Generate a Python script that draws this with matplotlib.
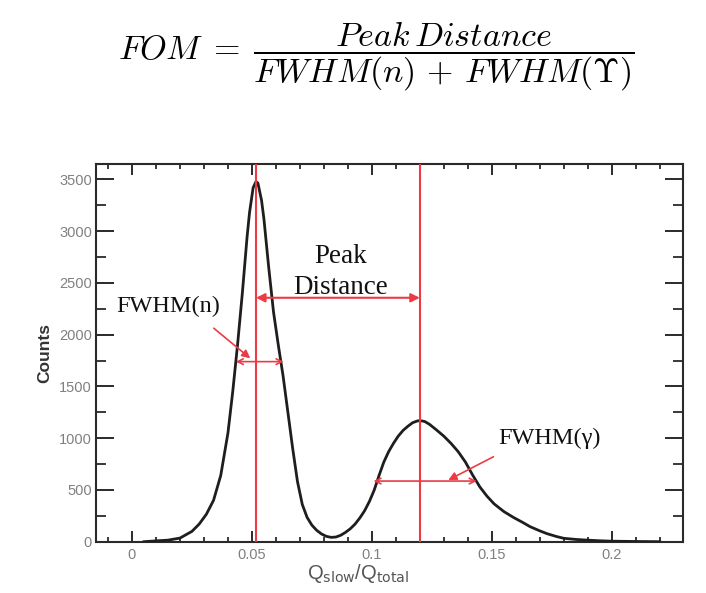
import matplotlib
matplotlib.use("Agg")
import matplotlib.pyplot as plt
from matplotlib.ticker import MultipleLocator, FixedLocator, FixedFormatter

# ---- data ----
q_ratio = [0.005, 0.010, 0.015, 0.020, 0.025, 0.028, 0.031, 0.034, 0.037, 0.040,
           0.042, 0.044, 0.046, 0.048, 0.049, 0.0505, 0.0517, 0.0525, 0.054, 0.055,
           0.057, 0.059, 0.061, 0.063, 0.065, 0.067, 0.069, 0.071, 0.073, 0.075,
           0.077, 0.079, 0.081, 0.083, 0.085, 0.087, 0.089, 0.091, 0.093, 0.095,
           0.097, 0.099, 0.101, 0.103, 0.105, 0.107, 0.109, 0.111, 0.113, 0.115,
           0.117, 0.119, 0.120, 0.122, 0.124, 0.127, 0.130, 0.133, 0.136, 0.139,
           0.142, 0.145, 0.148, 0.151, 0.155, 0.159, 0.163, 0.166, 0.170, 0.173,
           0.177, 0.180, 0.185, 0.190, 0.195, 0.200, 0.210, 0.220]
counts = [0, 8, 15, 35, 100, 170, 265, 400, 640, 1050,
          1450, 1900, 2400, 2950, 3180, 3420, 3480, 3465, 3300, 3120,
          2650, 2220, 1900, 1600, 1250, 900, 580, 360, 235, 160,
          110, 75, 52, 42, 45, 62, 90, 125, 170, 230,
          300, 390, 500, 640, 770, 870, 950, 1020, 1075, 1115,
          1150, 1167, 1170, 1162, 1135, 1079, 1020, 950, 870, 770,
          645, 530, 440, 365, 292, 235, 185, 145, 105, 78,
          50, 33, 22, 15, 9, 5, 2, 0]

neutron_peak = 0.0517
gamma_peak = 0.120
peak_distance_level = 2357
fwhm_n = [0.0433, 0.0632]
fwhm_n_level = 1740
fwhm_g = [0.1007, 0.1437]
fwhm_g_level = 586

x_major_ticks = [0, 0.05, 0.1, 0.15, 0.2]
x_tick_labels = ["0", "0.05", "0.1", "0.15", "0.2"]
y_major_ticks = [0, 500, 1000, 1500, 2000, 2500, 3000, 3500]
y_tick_labels = ["0", "500", "1000", "1500", "2000", "2500", "3000", "3500"]

RED = "#ec3b45"
SERIF = ["Liberation Serif", "DejaVu Serif"]
SANS = ["Liberation Sans", "DejaVu Sans"]

fig = plt.figure(figsize=(7.06, 5.93), dpi=100)
ax = fig.add_axes([0.136, 0.0865, 0.831, 0.637])

ax.plot(q_ratio, counts, color="#1e1e1e", lw=2.0, solid_joinstyle="round", zorder=3)

ax.set_xlim(-0.015, 0.2296)
ax.set_ylim(0, 3650)

ax.xaxis.set_major_locator(FixedLocator(x_major_ticks))
ax.xaxis.set_major_formatter(FixedFormatter(x_tick_labels))
ax.xaxis.set_minor_locator(MultipleLocator(0.01))
ax.yaxis.set_major_locator(FixedLocator(y_major_ticks))
ax.yaxis.set_major_formatter(FixedFormatter(y_tick_labels))
ax.yaxis.set_minor_locator(MultipleLocator(250))

ax.tick_params(axis="x", which="major", direction="in", length=8, width=1.4,
               top=True, bottom=True, pad=4.5, labelsize=10.5, labelcolor="#808080",
               color="#2a2a2a")
ax.tick_params(axis="x", which="minor", direction="in", length=3.8, width=1.3,
               top=True, bottom=True, color="#2a2a2a")
ax.tick_params(axis="y", which="major", direction="in", length=13, width=1.4,
               left=True, right=True, pad=3, labelsize=10.5, labelcolor="#808080",
               color="#2a2a2a")
ax.tick_params(axis="y", which="minor", direction="in", length=7, width=1.3,
               left=True, right=True, color="#2a2a2a")
for lab in ax.get_xticklabels() + ax.get_yticklabels():
    lab.set_family(SANS)
for sp in ax.spines.values():
    sp.set_linewidth(1.5)
    sp.set_color("#2a2a2a")

ax.set_ylabel("Counts", fontsize=12.5, color="#333333", family=SANS, fontweight="bold")
ax.yaxis.set_label_coords(-0.075, 0.5)
ax.set_xlabel(r"Q$_{\mathrm{slow}}$/Q$_{\mathrm{total}}$", fontsize=14.5, color="#555555",
              family=SANS)
ax.xaxis.set_label_coords(0.447, -0.055)

# red vertical lines at the peaks
ax.axvline(neutron_peak, color=RED, lw=1.5, zorder=4)
ax.axvline(gamma_peak, color=RED, lw=1.5, zorder=4)

# Peak distance arrow
ax.annotate("", xy=(neutron_peak, peak_distance_level), xytext=(gamma_peak, peak_distance_level),
            arrowprops=dict(arrowstyle="<|-|>", color=RED, lw=1.5, mutation_scale=13,
                            shrinkA=0, shrinkB=0), zorder=5)
ax.text(0.0868, 2760, "Peak", ha="center", va="center", fontsize=19.5,
        family=SERIF, color="#111111")
ax.text(0.0868, 2455, "Distance", ha="center", va="center", fontsize=19.5,
        family=SERIF, color="#111111")

# FWHM(n)
ax.annotate("", xy=(fwhm_n[0], fwhm_n_level), xytext=(fwhm_n[1], fwhm_n_level),
            arrowprops=dict(arrowstyle="<->", color=RED, lw=1.2, mutation_scale=10,
                            shrinkA=0, shrinkB=0), zorder=5)
ax.annotate("", xy=(0.0493, 1772), xytext=(0.0341, 2063),
            arrowprops=dict(arrowstyle="-|>", color=RED, lw=1.2, mutation_scale=12,
                            shrinkA=0, shrinkB=0), zorder=5)
ax.text(-0.0065, 2270, "FWHM(n)", ha="left", va="center", fontsize=17.5,
        family=SERIF, color="#111111")

# FWHM(gamma)
ax.annotate("", xy=(fwhm_g[0], fwhm_g_level), xytext=(fwhm_g[1], fwhm_g_level),
            arrowprops=dict(arrowstyle="<->", color=RED, lw=1.2, mutation_scale=10,
                            shrinkA=0, shrinkB=0), zorder=5)
ax.annotate("", xy=(0.1319, 596), xytext=(0.1507, 821),
            arrowprops=dict(arrowstyle="-|>", color=RED, lw=1.2, mutation_scale=12,
                            shrinkA=0, shrinkB=0), zorder=5)
ax.text(0.1526, 1002, "FWHM(\u03b3)", ha="left", va="center", fontsize=17.5,
        family=SERIF, color="#111111")

# formula title
fig.text(0.533, 0.905, r"$FOM\;=\;\dfrac{Peak\,Distance}{FWHM(n)\,+\,FWHM(\Upsilon)}$",
         ha="center", va="center", fontsize=24.5, math_fontfamily="cm", color="#000000")

fig.savefig("out.png", dpi=100, facecolor="white")
